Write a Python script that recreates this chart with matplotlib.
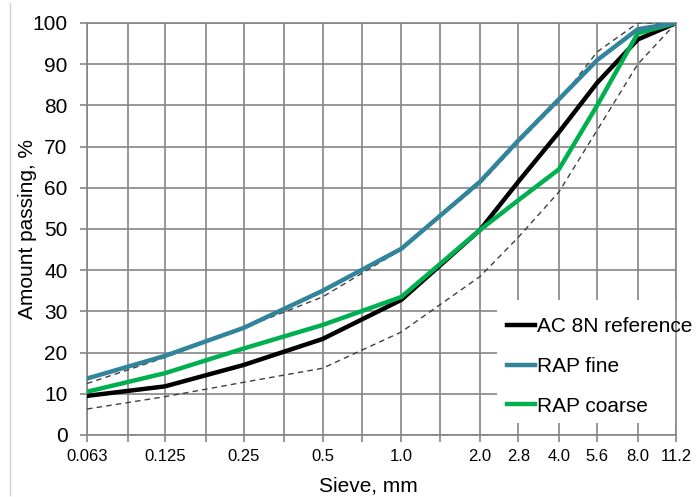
import matplotlib
matplotlib.use("Agg")
import matplotlib.pyplot as plt
from matplotlib.lines import Line2D
from matplotlib.patches import Rectangle

plt.rcParams['font.family'] = ['Liberation Sans', 'DejaVu Sans']

# ---- data ----
sieve = [0.063, 0.125, 0.25, 0.5, 1.0, 2.0, 2.8, 4.0, 5.6, 8.0, 11.2]
ac8n = [9.5, 11.8, 17.0, 23.3, 32.8, 49.8, 61.5, 73.5, 85.5, 96.0, 100]
rap_fine = [13.7, 19.2, 26.0, 35.0, 45.2, 61.5, 71.5, 81.5, 91.0, 98.5, 100]
rap_coarse = [10.5, 15.0, 21.0, 26.7, 33.5, 49.8, 57.0, 64.5, 80.0, 97.5, 100]
upper_limit = [12.5, 18.8, 26.0, 33.5, 45.0, 61.0, 71.0, 81.0, 93.0, 100, 100]
lower_limit = [6.3, 9.3, 12.8, 16.2, 25.0, 38.5, 48.0, 59.0, 74.0, 90.0, 100]

major_ticks = [0.063, 0.125, 0.25, 0.5, 1.0, 2.0, 2.8, 4.0, 5.6, 8.0, 11.2]
major_labels = ["0.063", "0.125", "0.25", "0.5", "1.0", "2.0", "2.8", "4.0", "5.6", "8.0", "11.2"]
minor_ticks = [0.09, 0.18, 0.355, 0.71, 1.4]
y_ticks = list(range(0, 101, 10))

W, H = 696, 497
fig = plt.figure(figsize=(W / 100, H / 100), dpi=100)
ax = fig.add_axes([87 / W, 1 - 435 / H, (676 - 87) / W, (435 - 23) / H])

grid_c = '#858585'
ax.set_xscale('log', base=2)
ax.set_xlim(0.063, 11.2)
ax.set_ylim(0, 100)
ax.set_axisbelow(True)

ax.set_xticks(major_ticks)
ax.set_xticklabels(major_labels, fontsize=12)
ax.set_xticks(minor_ticks, minor=True)
ax.set_xticklabels([], minor=True)
ax.set_yticks(y_ticks)
ax.set_yticklabels([str(v) for v in y_ticks], fontsize=15)

ax.grid(True, which='both', axis='x', color=grid_c, lw=1.2)
ax.grid(True, which='major', axis='y', color=grid_c, lw=1.2)
ax.tick_params(axis='x', which='both', length=5, width=1.2, color=grid_c, pad=5)
ax.tick_params(axis='y', length=5, width=1.2, color=grid_c, pad=9)
for s in ax.spines.values():
    s.set_color(grid_c)
    s.set_linewidth(1.2)

ax.plot(sieve, upper_limit, color='#404040', lw=1.0, dashes=(4, 3), zorder=3)
ax.plot(sieve, lower_limit, color='#404040', lw=1.0, dashes=(4, 3), zorder=3)
l1, = ax.plot(sieve, ac8n, color='black', lw=3.2, zorder=4, label='AC 8N reference')
l2, = ax.plot(sieve, rap_fine, color='#31849B', lw=3.2, zorder=5, label='RAP fine')
l3, = ax.plot(sieve, rap_coarse, color='#00B050', lw=3.2, zorder=4, label='RAP coarse')

# white legend area
rect = Rectangle((497 / W, 1 - 423 / H), (W - 497) / W, (423 - 300) / H,
                 transform=fig.transFigure, facecolor='white', edgecolor='none',
                 zorder=2, clip_on=False)
ax.add_artist(rect)

leg = ax.legend(handles=[l1, l2, l3], loc='upper left',
                bbox_to_anchor=(507 / W, 1 - 317 / H), bbox_transform=fig.transFigure,
                frameon=False, fontsize=15, handlelength=1.35, handletextpad=0.1,
                borderpad=0, borderaxespad=0, labelspacing=1.0)
leg.set_zorder(6)

ax.set_ylabel('Amount passing, %', fontsize=15)
ax.yaxis.set_label_coords(-0.085, 0.5)
ax.set_xlabel('Sieve, mm', fontsize=15)
ax.xaxis.set_label_coords((368 - 87) / 589, -0.100)

fig.add_artist(Line2D([10 / W, 10 / W], [1 - 495 / H, 1 - 3 / H],
                      transform=fig.transFigure, color='#d0d0d0', lw=1.0))

fig.savefig('out.png', dpi=100)
